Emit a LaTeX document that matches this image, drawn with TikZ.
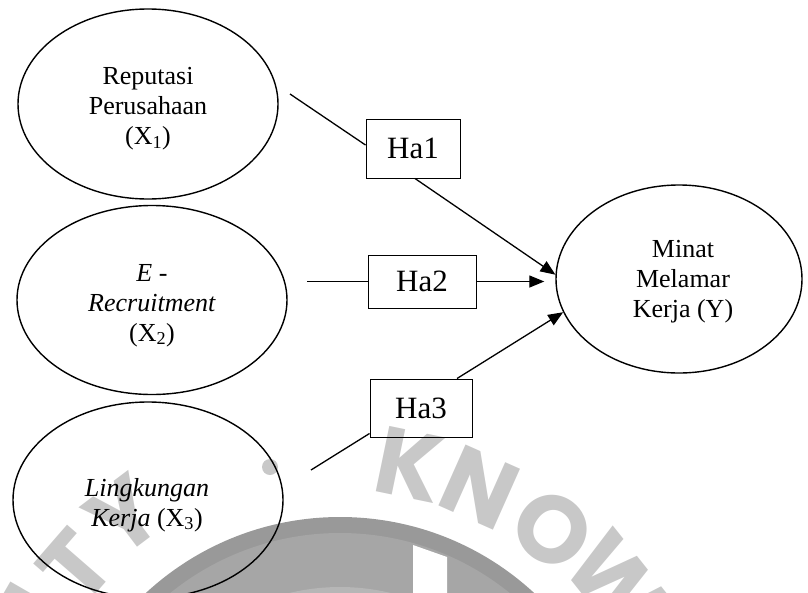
\documentclass[tikz,border=0pt]{standalone}
\usepackage{fontspec}
\setmainfont{Liberation Serif}
\newfontfamily\wmfont{Poppins}
\usetikzlibrary{arrows.meta,calc,shapes.geometric}
\definecolor{wmlight}{RGB}{200,200,200}
\definecolor{wmdark}{RGB}{153,153,153}
\definecolor{wmmid}{RGB}{166,166,166}
\definecolor{wminner}{RGB}{182,182,182}
\begin{document}
\begin{tikzpicture}[x=1pt,y=-1pt,
  ell/.style={draw, ellipse, line width=1.4pt, inner sep=0pt},
  hbox/.style={draw, line width=1pt, inner sep=0pt, font=\fontsize{31}{36}\selectfont},
  lbl/.style={align=center, inner sep=0pt, font=\fontsize{26}{30}\selectfont},
  conn/.style={line width=1.3pt},
  arr/.style={conn, -{Triangle[length=15pt,width=12pt]}},
  wm/.style={text=wmlight, inner sep=0pt, font=\wmfont\bfseries\fontsize{95}{95}\selectfont}
]
\useasboundingbox (0,0) rectangle (808,592);
% watermark
\begin{scope}
\clip (0,0) rectangle (808,592);
\fill[wmdark] (340,803) circle[radius=286pt];
\fill[wmmid] (340,803) circle[radius=270pt];
\fill[wminner] (340,803) circle[radius=216pt];
\fill[white] (413,545) -- (447,557) -- (447,600) -- (413,600) -- cycle;
\fill[wmlight] (270,467) circle[radius=8pt];
\node[wm, rotate=60] (wi) at (36,606) {I};
\node[wm, rotate=49] (wt) at (76,566) {T};
\node[wm, rotate=37] (wy) at (124,516) {Y};
\node[wm, rotate=-11.7] (wk) at (410,465) {K};
\node[wm, rotate=-24] (wn) at (480,488) {N};
\node[wm, rotate=-37.5] (wo) at (552,530) {O};
\node[wm, rotate=-51.5] (ww) at (617,584) {W};
\end{scope}
% ellipses
\node[ell, minimum width=260pt, minimum height=190pt] (x1) at (148,104) {};
\node[ell, minimum width=270pt, minimum height=189pt] (x2) at (152,300) {};
\node[ell, minimum width=270pt, minimum height=196pt] (x3) at (148,500) {};
\node[ell, minimum width=246pt, minimum height=188pt] (ym) at (679,279) {};
% labels
\node[lbl] (x1t) at (148,109) {Reputasi\\Perusahaan\\(X\textsubscript{1})};
\node[lbl] (x2t) at (152,305.5) {\textit{E -}\\\textit{Recruitment}\\(X\textsubscript{2})};
\node[lbl] (x3t) at (147,505) {\textit{Lingkungan}\\\textit{Kerja} (X\textsubscript{3})};
\node[lbl] (ymt) at (683,282) {Minat\\Melamar\\Kerja (Y)};
% hypothesis boxes
\node[hbox, minimum width=94pt, minimum height=59pt] (ha1) at (413,148.5) {Ha1};
\node[hbox, minimum width=108pt, minimum height=53pt] (ha2) at (422,281.5) {Ha2};
\node[hbox, minimum width=102pt, minimum height=58pt] (ha3) at (421,408) {Ha3};
% connectors
\coordinate (s1) at (290,94);
\coordinate (s2) at (307,281.5);
\coordinate (s3) at (311,470);
\coordinate (t2) at ([xshift=-11pt]ym.west);
\draw[conn] (s1) -- ([yshift=3.5pt]ha1.west);
\draw[arr] ([xshift=2pt]ha1.south) -- (ym.178);
\draw[conn] (s2) -- (ha2.west);
\draw[arr] (ha2.east) -- (ha2.east -| t2);
\draw[conn] (s3) -- ([yshift=4pt]ha3.south west);
\draw[arr] ($(ha3.north)!0.7!(ha3.north east)$) -- (ym.196);
\end{tikzpicture}
\end{document}
